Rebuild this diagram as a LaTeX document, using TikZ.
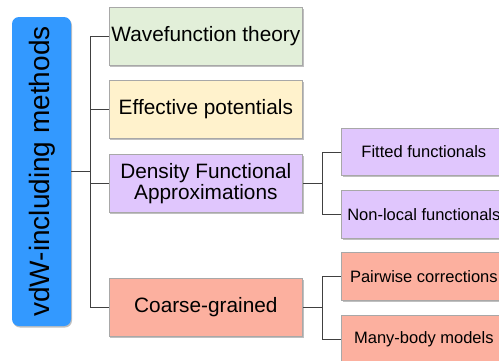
\documentclass[tikz,border=0pt]{standalone}
\usepackage{fontspec}
\setmainfont{Liberation Sans}
\usetikzlibrary{shadows}

\definecolor{rootblue}{HTML}{3399FF}
\definecolor{wfgreen}{HTML}{E2EFD9}
\definecolor{effyellow}{HTML}{FFF2CC}
\definecolor{dfapurple}{HTML}{E0C6FD}
\definecolor{cgsalmon}{HTML}{FCB09F}
\definecolor{boxedge}{HTML}{A8A8A8}
\definecolor{linkgray}{HTML}{404040}

\tikzset{
  boxshadow/.style={drop shadow={shadow xshift=1pt, shadow yshift=-1.5pt, fill=black, opacity=0.25}},
  levelone/.style={draw=boxedge, line width=0.8pt, boxshadow, minimum width=193.7pt,
    minimum height=58pt, inner sep=0pt, align=center,
    font=\fontsize{20.8pt}{21pt}\selectfont},
  leveltwo/.style={draw=boxedge, line width=0.8pt, boxshadow, minimum width=164.3pt,
    minimum height=47.5pt, inner sep=0pt, align=center,
    font=\fontsize{16.5pt}{18pt}\selectfont},
  link/.style={draw=linkgray, line width=0.9pt},
}

\begin{document}
\begin{tikzpicture}[x=1pt, y=-1pt]
  \useasboundingbox (0,0) rectangle (499,360);
  \clip (0,0) rectangle (499,360);
  \fill[white] (0,0) rectangle (499,360);

  % root
  \node[fill=rootblue, rounded corners=7pt, boxshadow, minimum width=59pt,
        minimum height=309pt, inner sep=0pt] (root) at (41.5,171.5) {};
  \node[rotate=90, font=\fontsize{28pt}{30pt}\selectfont, inner sep=0pt]
        (roottext) at (42,171.5) {vdW-including methods};

  % first level
  \node[levelone, fill=wfgreen]   (wf)  at (205.85,36)    {Wavefunction theory};
  \node[levelone, fill=effyellow] (eff) at (205.85,109.5) {Effective potentials};
  \node[levelone, fill=dfapurple] (dfa) at (205.85,183.5) {Density Functional\\Approximations};
  \node[levelone, fill=cgsalmon]  (cg)  at (205.85,307.5) {Coarse-grained};

  % second level
  \node[leveltwo, fill=dfapurple] (fit)  at (423.85,152)   {Fitted functionals};
  \node[leveltwo, fill=dfapurple] (nl)   at (423.85,214.5) {Non-local functionals};
  \node[leveltwo, fill=cgsalmon]  (pair) at (423.85,276.5) {Pairwise corrections};
  \node[leveltwo, fill=cgsalmon]  (mb)   at (423.85,339.5) {Many-body models};

  % connectors
  \coordinate (j0) at (90,171.5);
  \coordinate (jd) at (322,183.5);
  \coordinate (jc) at (322,307.5);
  \path[link] (root.east) -- (j0);
  \path[link] (j0) |- (wf.west);
  \path[link] (j0) |- (eff.west);
  \path[link] (j0) |- (dfa.west);
  \path[link] (j0) |- (cg.west);
  \path[link] (dfa.east) -- (jd);
  \path[link] (jd) |- (fit.west);
  \path[link] (jd) |- (nl.west);
  \path[link] (cg.east) -- (jc);
  \path[link] (jc) |- (pair.west);
  \path[link] (jc) |- (mb.west);
\end{tikzpicture}
\end{document}
